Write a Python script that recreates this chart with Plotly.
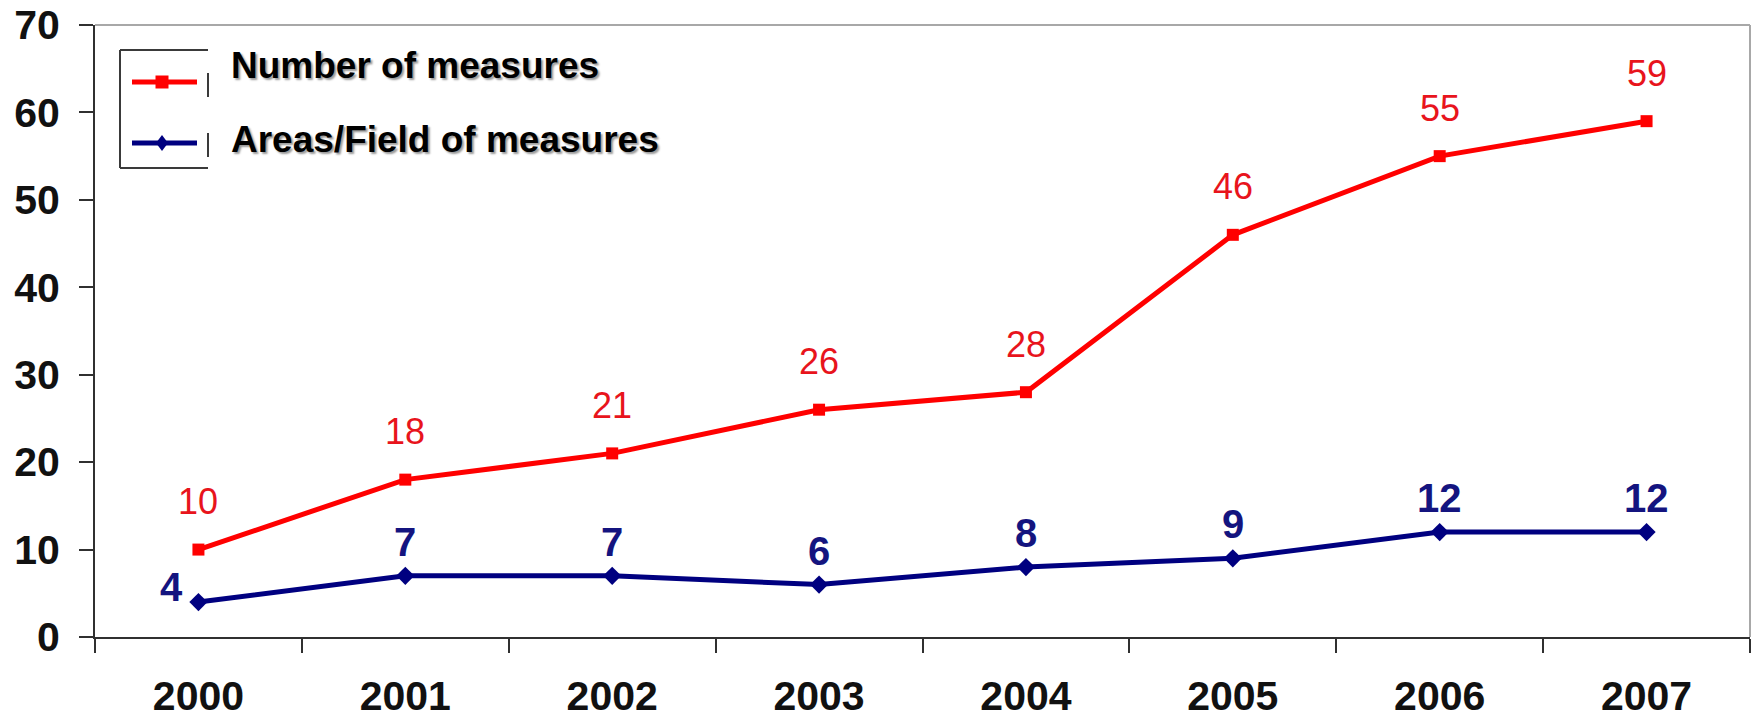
import plotly.graph_objects as go

years = ["2000", "2001", "2002", "2003", "2004", "2005", "2006", "2007"]
num_measures = [10, 18, 21, 26, 28, 46, 55, 59]
areas_fields = [4, 7, 7, 6, 8, 9, 12, 12]
series_names = ["Number of measures", "Areas/Field of measures"]
y_ticks = [0, 10, 20, 30, 40, 50, 60, 70]

RED = "#ff0000"
RED_TXT = "#e8141c"
NAVY = "#000080"
NAVY_TXT = "#14147f"
FONT = "Liberation Sans, Arial, sans-serif"

W, H = 1757, 718
L, R, T, B = 95, 1750, 25, 637


def xp(px):
    return (px - L) / (R - L)


def yp(py):
    return (B - py) / (B - T)


fig = go.Figure()
fig.add_trace(go.Scatter(
    x=years, y=num_measures, mode="lines+markers", name=series_names[0],
    line=dict(color=RED, width=5),
    marker=dict(symbol="square", size=12, color=RED),
    cliponaxis=False, showlegend=False,
))
fig.add_trace(go.Scatter(
    x=years, y=areas_fields, mode="lines+markers", name=series_names[1],
    line=dict(color=NAVY, width=5),
    marker=dict(symbol="diamond", size=14, color=NAVY),
    cliponaxis=False, showlegend=False,
))

annotations = []
for i, v in enumerate(num_measures):
    annotations.append(dict(
        x=i, y=v, xref="x", yref="y", text=str(v), showarrow=False,
        yshift=48, font=dict(family=FONT, size=36, color=RED_TXT),
    ))
for i, v in enumerate(areas_fields):
    if i == 0:
        xs, ys = -27, 15
    else:
        xs, ys = 0, 34
    annotations.append(dict(
        x=i, y=v, xref="x", yref="y", text=str(v), showarrow=False,
        xshift=xs, yshift=ys,
        font=dict(family=FONT, size=40, color=NAVY_TXT, weight="bold"),
    ))

# legend texts
for name, cy in zip(series_names, [65, 139]):
    annotations.append(dict(
        x=xp(229), y=yp(cy), xref="paper", yref="paper", text=name,
        showarrow=False, xanchor="left", yanchor="middle",
        font=dict(family=FONT, size=37, color="#000000", weight="bold",
                  shadow="2px 2px 2px #9a9a9a"),
    ))

shapes = []
# plot area border: top and right light gray
shapes.append(dict(type="line", xref="paper", yref="paper", x0=0, x1=1, y0=1, y1=1,
                   line=dict(color="#a8a8a8", width=2)))
shapes.append(dict(type="line", xref="paper", yref="paper", x0=1, x1=1, y0=0, y1=1,
                   line=dict(color="#a8a8a8", width=2)))

# legend box (partially hidden on the right)
box_l, box_r, box_t, box_b = 120, 208, 50, 168
for (x0, y0, x1, y1) in [
    (box_l, box_t, box_r, box_t),
    (box_l, box_b, box_r, box_b),
    (box_l, box_t, box_l, box_b),
    (box_r, 73, box_r, 97),
    (box_r, 133, box_r, 157),
]:
    shapes.append(dict(type="line", xref="paper", yref="paper",
                       x0=xp(x0), x1=xp(x1), y0=yp(y0), y1=yp(y1),
                       line=dict(color="#3a3a3a", width=2)))

# legend samples
for color, cy, kind in [(RED, 82, "square"), (NAVY, 143, "diamond")]:
    shapes.append(dict(type="line", xref="paper", yref="paper",
                       x0=xp(132), x1=xp(197), y0=yp(cy), y1=yp(cy),
                       line=dict(color=color, width=5)))
    cx = 162
    if kind == "square":
        shapes.append(dict(type="rect", xref="paper", yref="paper",
                           x0=xp(cx - 6.5), x1=xp(cx + 6.5), y0=yp(cy + 6.5), y1=yp(cy - 6.5),
                           fillcolor=color, line=dict(width=0)))
    else:
        pts = [(cx, cy - 8), (cx + 6, cy), (cx, cy + 8), (cx - 6, cy)]
        path = "M " + " L ".join(f"{xp(a):.5f},{yp(b):.5f}" for a, b in pts) + " Z"
        shapes.append(dict(type="path", xref="paper", yref="paper", path=path,
                           fillcolor=color, line=dict(width=0)))

fig.update_layout(
    width=W, height=H,
    margin=dict(l=L, r=W - R, t=T, b=H - B, pad=0, autoexpand=False),
    paper_bgcolor="white", plot_bgcolor="white",
    showlegend=False,
    annotations=annotations, shapes=shapes,
    xaxis=dict(
        type="category", range=[-0.5, 7.5], tickson="boundaries",
        ticks="outside", ticklen=14, tickwidth=2, tickcolor="#303030",
        showline=True, linecolor="#303030", linewidth=2,
        showgrid=False, zeroline=False, automargin=False,
        tickfont=dict(family=FONT, size=41, color="#111111", weight="bold"),
        ticklabelstandoff=22,
    ),
    yaxis=dict(
        range=[0, 70], tickvals=y_ticks,
        ticks="outside", ticklen=14, tickwidth=2, tickcolor="#303030",
        showline=True, linecolor="#303030", linewidth=2,
        showgrid=False, zeroline=False, automargin=False,
        tickfont=dict(family=FONT, size=41, color="#111111", weight="bold"),
        ticklabelstandoff=11,
    ),
)

fig.write_html(
    "out.html",
    config={"displayModeBar": False},
    post_script="document.body.style.margin='0';document.body.style.overflow='hidden';",
)
